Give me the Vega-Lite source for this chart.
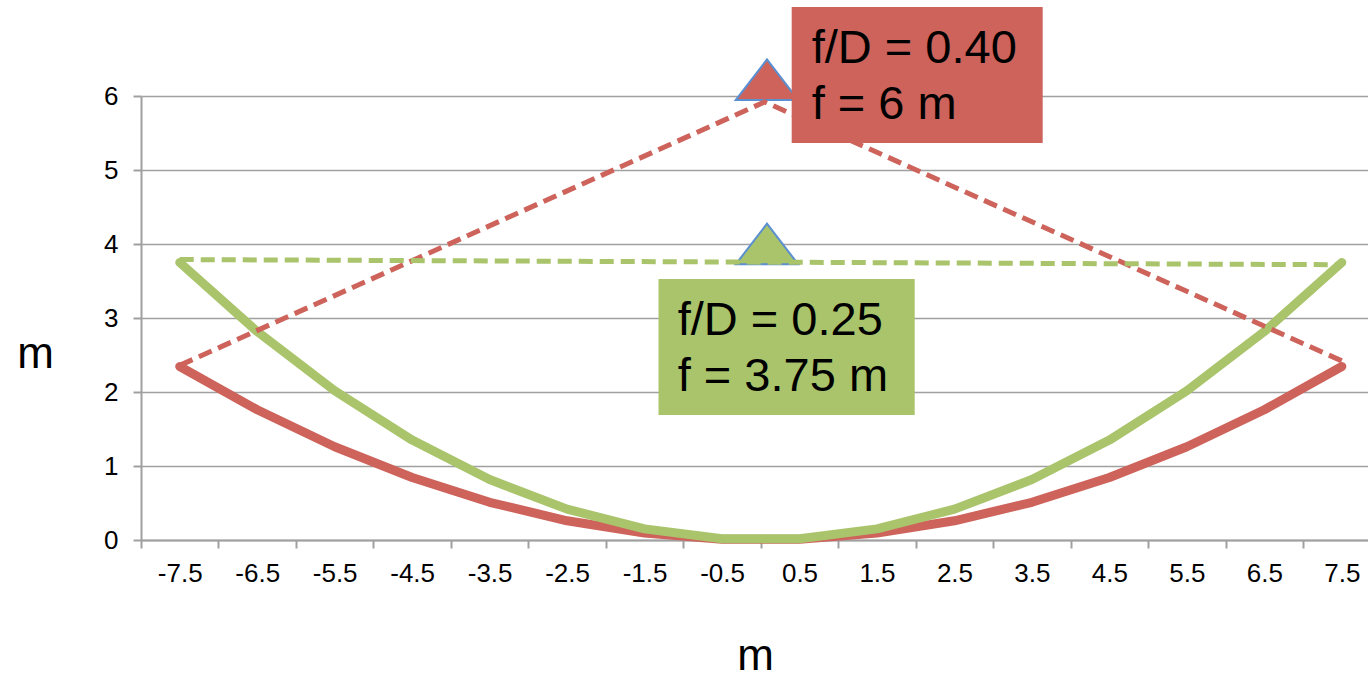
{
  "$schema": "https://vega.github.io/schema/vega-lite/v6.json",
  "width": 1227,
  "height": 444,
  "autosize": {"type": "none"},
  "padding": {"left": 141, "top": 96, "right": 0, "bottom": 141},
  "background": "white",
  "config": {"view": {"stroke": null}, "font": "Liberation Sans"},
  "datasets": {
    "curves": [
      {"x": -7.5, "y": 2.344, "series": "r"}, {"x": -6.5, "y": 1.760, "series": "r"}, {"x": -5.5, "y": 1.260, "series": "r"}, {"x": -4.5, "y": 0.844, "series": "r"},
      {"x": -3.5, "y": 0.510, "series": "r"}, {"x": -2.5, "y": 0.260, "series": "r"}, {"x": -1.5, "y": 0.094, "series": "r"}, {"x": -0.5, "y": 0.010, "series": "r"},
      {"x": 0.5, "y": 0.010, "series": "r"}, {"x": 1.5, "y": 0.094, "series": "r"}, {"x": 2.5, "y": 0.260, "series": "r"}, {"x": 3.5, "y": 0.510, "series": "r"},
      {"x": 4.5, "y": 0.844, "series": "r"}, {"x": 5.5, "y": 1.260, "series": "r"}, {"x": 6.5, "y": 1.760, "series": "r"}, {"x": 7.5, "y": 2.344, "series": "r"},
      {"x": -7.5, "y": 3.750, "series": "g"}, {"x": -6.5, "y": 2.817, "series": "g"}, {"x": -5.5, "y": 2.017, "series": "g"}, {"x": -4.5, "y": 1.350, "series": "g"},
      {"x": -3.5, "y": 0.817, "series": "g"}, {"x": -2.5, "y": 0.417, "series": "g"}, {"x": -1.5, "y": 0.150, "series": "g"}, {"x": -0.5, "y": 0.017, "series": "g"},
      {"x": 0.5, "y": 0.017, "series": "g"}, {"x": 1.5, "y": 0.150, "series": "g"}, {"x": 2.5, "y": 0.417, "series": "g"}, {"x": 3.5, "y": 0.817, "series": "g"},
      {"x": 4.5, "y": 1.350, "series": "g"}, {"x": 5.5, "y": 2.017, "series": "g"}, {"x": 6.5, "y": 2.817, "series": "g"}, {"x": 7.5, "y": 3.750, "series": "g"}
    ],
    "guides": [
      {"x": -7.5, "y": 2.36, "series": "r"}, {"x": 0.05, "y": 5.92, "series": "r"}, {"x": 7.5, "y": 2.42, "series": "r"},
      {"x": -7.5, "y": 3.79, "series": "g"}, {"x": 7.5, "y": 3.72, "series": "g"}
    ],
    "foci": [
      {"x": 0.08, "y": 6.22, "series": "r"},
      {"x": 0.08, "y": 4.0, "series": "g"}
    ],
    "boxes": [
      {"x": 0.399, "x2": 3.639, "y": 7.203, "y2": 5.365, "series": "r"},
      {"x": -1.32, "x2": 1.987, "y": 3.527, "y2": 1.689, "series": "g"}
    ],
    "labels": [
      {"x": 0.657, "y": 6.446, "label": "f/D = 0.40\nf = 6 m"},
      {"x": -1.072, "y": 2.77, "label": "f/D = 0.25\nf = 3.75 m"}
    ]
  },
  "encoding": {
    "x": {
      "field": "x", "type": "quantitative",
      "scale": {"domain": [-8, 7.838], "nice": false, "zero": false},
      "axis": {
        "title": "m",
        "values": [-7.5, -6.5, -5.5, -4.5, -3.5, -2.5, -1.5, -0.5, 0.5, 1.5, 2.5, 3.5, 4.5, 5.5, 6.5, 7.5],
        "labelExpr": "datum.value < 0 ? '-' + format(-datum.value, '.1f') : format(datum.value, '.1f')",
        "tickOffset": -38.735, "labelOffset": 38.735,
        "grid": false,
        "domainColor": "#a0a0a0", "domainWidth": 2,
        "tickColor": "#a0a0a0", "tickWidth": 2, "tickSize": 8,
        "labelFont": "Liberation Sans", "labelFontSize": 26, "labelColor": "#000000", "labelPadding": 12,
        "labelFlush": false, "labelOverlap": false,
        "titleFont": "Liberation Sans", "titleFontSize": 44, "titleFontWeight": "normal", "titleColor": "#000000",
        "titleX": 614, "titleY": 129, "titleBaseline": "alphabetic", "titleAlign": "center"
      }
    },
    "y": {
      "field": "y", "type": "quantitative",
      "scale": {"domain": [0, 6], "nice": false},
      "axis": {
        "title": "m",
        "values": [0, 1, 2, 3, 4, 5, 6],
        "grid": true, "gridColor": "#a0a0a0", "gridWidth": 1.5,
        "domainColor": "#a0a0a0", "domainWidth": 2,
        "tickColor": "#a0a0a0", "tickWidth": 2, "tickSize": 8,
        "labelFont": "Liberation Sans", "labelFontSize": 26, "labelColor": "#000000", "labelPadding": 15,
        "titleFont": "Liberation Sans", "titleFontSize": 44, "titleFontWeight": "normal", "titleColor": "#000000",
        "titleAngle": 0, "titleX": -106, "titleY": 271, "titleBaseline": "alphabetic", "titleAlign": "center"
      }
    }
  },
  "layer": [
    {
      "data": {"name": "foci"},
      "mark": {"type": "point", "shape": "M0,-0.65L1,0.65L-1,0.65Z", "size": 3900, "filled": true, "opacity": 1, "stroke": "#5B8FD0", "strokeWidth": 2},
      "encoding": {
        "color": {"field": "series", "type": "nominal", "scale": {"domain": ["r", "g"], "range": ["#CD635B", "#A9C46B"]}, "legend": null}
      }
    },
    {
      "data": {"name": "curves"},
      "mark": {"type": "line", "strokeWidth": 9, "strokeCap": "round", "strokeJoin": "round"},
      "encoding": {
        "color": {"field": "series", "type": "nominal", "sort": ["r", "g"], "scale": {"domain": ["r", "g"], "range": ["#CD635B", "#A9C46B"]}, "legend": null},
        "order": {"field": "x"}
      }
    },
    {
      "data": {"name": "guides"},
      "mark": {"type": "line", "strokeWidth": 5, "strokeDash": [14, 7]},
      "encoding": {
        "color": {"field": "series", "type": "nominal", "scale": {"domain": ["r", "g"], "range": ["#CD635B", "#A9C46B"]}, "legend": null},
        "order": {"field": "x"}
      }
    },
    {
      "data": {"name": "boxes"},
      "mark": {"type": "rect", "opacity": 1},
      "encoding": {
        "x2": {"field": "x2"},
        "y2": {"field": "y2"},
        "color": {"field": "series", "type": "nominal", "scale": {"domain": ["r", "g"], "range": ["#CD635B", "#A9C46B"]}, "legend": null}
      }
    },
    {
      "data": {"name": "labels"},
      "mark": {"type": "text", "align": "left", "baseline": "alphabetic", "fontSize": 47, "font": "Liberation Sans", "color": "#000000", "lineBreak": "\n", "lineHeight": 56},
      "encoding": {
        "text": {"field": "label"}
      }
    }
  ]
}
